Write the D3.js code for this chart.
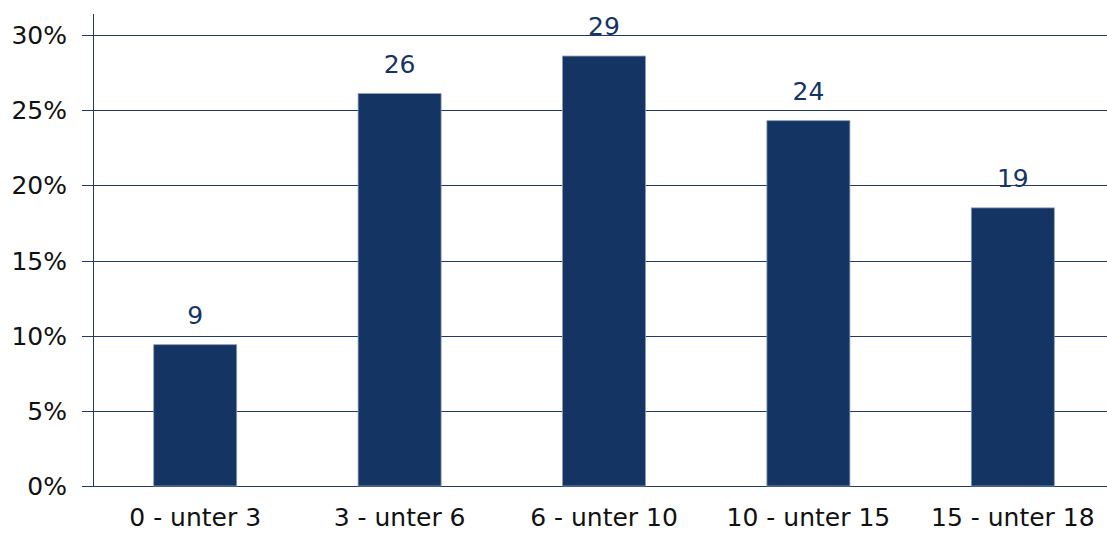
<!DOCTYPE html>
<html>
<head>
<meta charset="utf-8">
<script src="https://cdn.jsdelivr.net/npm/d3@7"></script>
<style>
  html, body { margin: 0; padding: 0; background: #fff; }
  svg { display: block; }
  text { font-family: "DejaVu Sans", "Noto Sans", sans-serif; }
</style>
</head>
<body>
<svg id="chart" width="1107" height="533"></svg>
<script>
// Altersgruppen (Jahre) und Anteile in Prozent
const categories = ["0 - unter 3", "3 - unter 6", "6 - unter 10", "10 - unter 15", "15 - unter 18"];
const shares = [9.4, 26.1, 28.6, 24.3, 18.5];
const yTicks = [0, 5, 10, 15, 20, 25, 30];

const svg = d3.select("#chart");
const W = 1107, H = 533;
const margin = { left: 93, right: -8, top: 35, bottom: 47 };

const x = d3.scaleBand()
  .domain(categories)
  .range([margin.left, W - margin.right])
  .paddingInner(0.594)
  .paddingOuter(0.297);

const y = d3.scaleLinear()
  .domain([0, 30])
  .range([H - margin.bottom, margin.top]);

const navy = "#143464";
const lineCol = "#1f3a6b";

// grid lines, starting a little left of the axis as tick marks
svg.append("g")
  .selectAll("line")
  .data(yTicks)
  .join("line")
  .attr("x1", margin.left - 11)
  .attr("x2", W)
  .attr("y1", d => Math.round(y(d)) + 0.5)
  .attr("y2", d => Math.round(y(d)) + 0.5)
  .attr("stroke", lineCol)
  .attr("stroke-width", 1);

// tick labels
svg.append("g")
  .selectAll("text")
  .data(yTicks)
  .join("text")
  .attr("x", 67)
  .attr("y", d => y(d))
  .attr("dy", "0.36em")
  .attr("text-anchor", "end")
  .attr("fill", "#111")
  .attr("font-size", 25)
  .text(d => d + "%");

// vertical axis line
svg.append("line")
  .attr("x1", margin.left + 0.5).attr("x2", margin.left + 0.5)
  .attr("y1", 14).attr("y2", y(0))
  .attr("stroke", lineCol)
  .attr("stroke-width", 1);

// bars
svg.append("g")
  .selectAll("rect")
  .data(shares)
  .join("rect")
  .attr("x", (d, i) => x(categories[i]))
  .attr("width", x.bandwidth())
  .attr("y", d => y(d))
  .attr("height", d => y(0) - y(d))
  .attr("fill", navy)
  .attr("stroke", "#8a9bb8")
  .attr("stroke-width", 0.8);

// value labels above bars
svg.append("g")
  .selectAll("text")
  .data(shares)
  .join("text")
  .attr("x", (d, i) => x(categories[i]) + x.bandwidth() / 2)
  .attr("y", d => y(d) - 21)
  .attr("text-anchor", "middle")
  .attr("fill", navy)
  .attr("font-size", 25)
  .text(d => d3.format(".0f")(d));

// category labels
const xAxis = d3.axisBottom(x).tickSize(0).tickPadding(22);
const gx = svg.append("g")
  .attr("transform", `translate(0,${y(0)})`)
  .call(xAxis);
gx.select(".domain").remove();
gx.selectAll(".tick text")
  .attr("fill", "#111")
  .attr("font-family", "DejaVu Sans, sans-serif")
  .attr("font-size", 25);
</script>
</body>
</html>
